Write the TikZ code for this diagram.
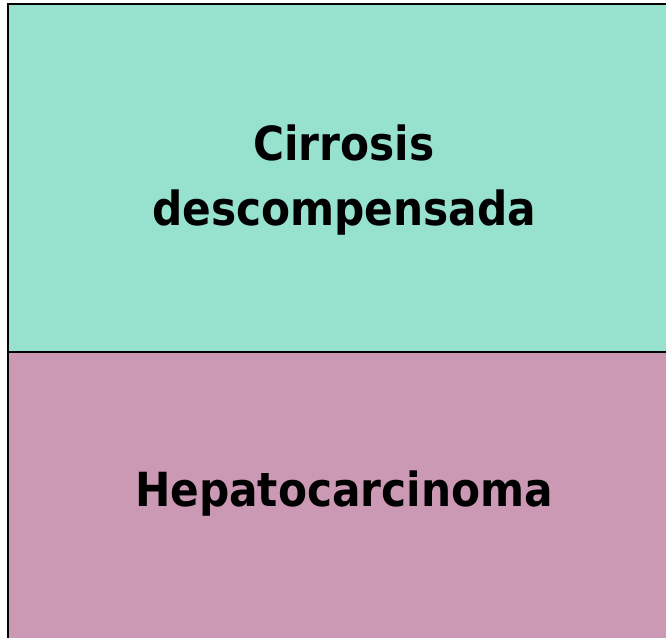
\documentclass[tikz,border=0pt]{standalone}
\usepackage{fontspec}
\setmainfont{DejaVu Sans Condensed}
\definecolor{topfill}{RGB}{150,226,207}
\definecolor{botfill}{RGB}{204,153,180}
\tikzset{
  panel/.style={draw=black, line width=2.6pt},
  label/.style={font=\fontsize{47}{65}\selectfont\bfseries, align=center, text=black}
}
\begin{document}
\begin{tikzpicture}[x=1pt,y=1pt]
\useasboundingbox (0,0) rectangle (666,637);
\clip (0,0) rectangle (666,637);
\filldraw[panel, fill=topfill] (8,285) rectangle (680,633);
\filldraw[panel, fill=botfill] (8,-10) rectangle (680,285);
\node[label] (cirr) at (344,457) {Cirrosis\\descompensada};
\node[label, anchor=base] (hep) at (344,130) {Hepatocarcinoma};
\end{tikzpicture}
\end{document}
